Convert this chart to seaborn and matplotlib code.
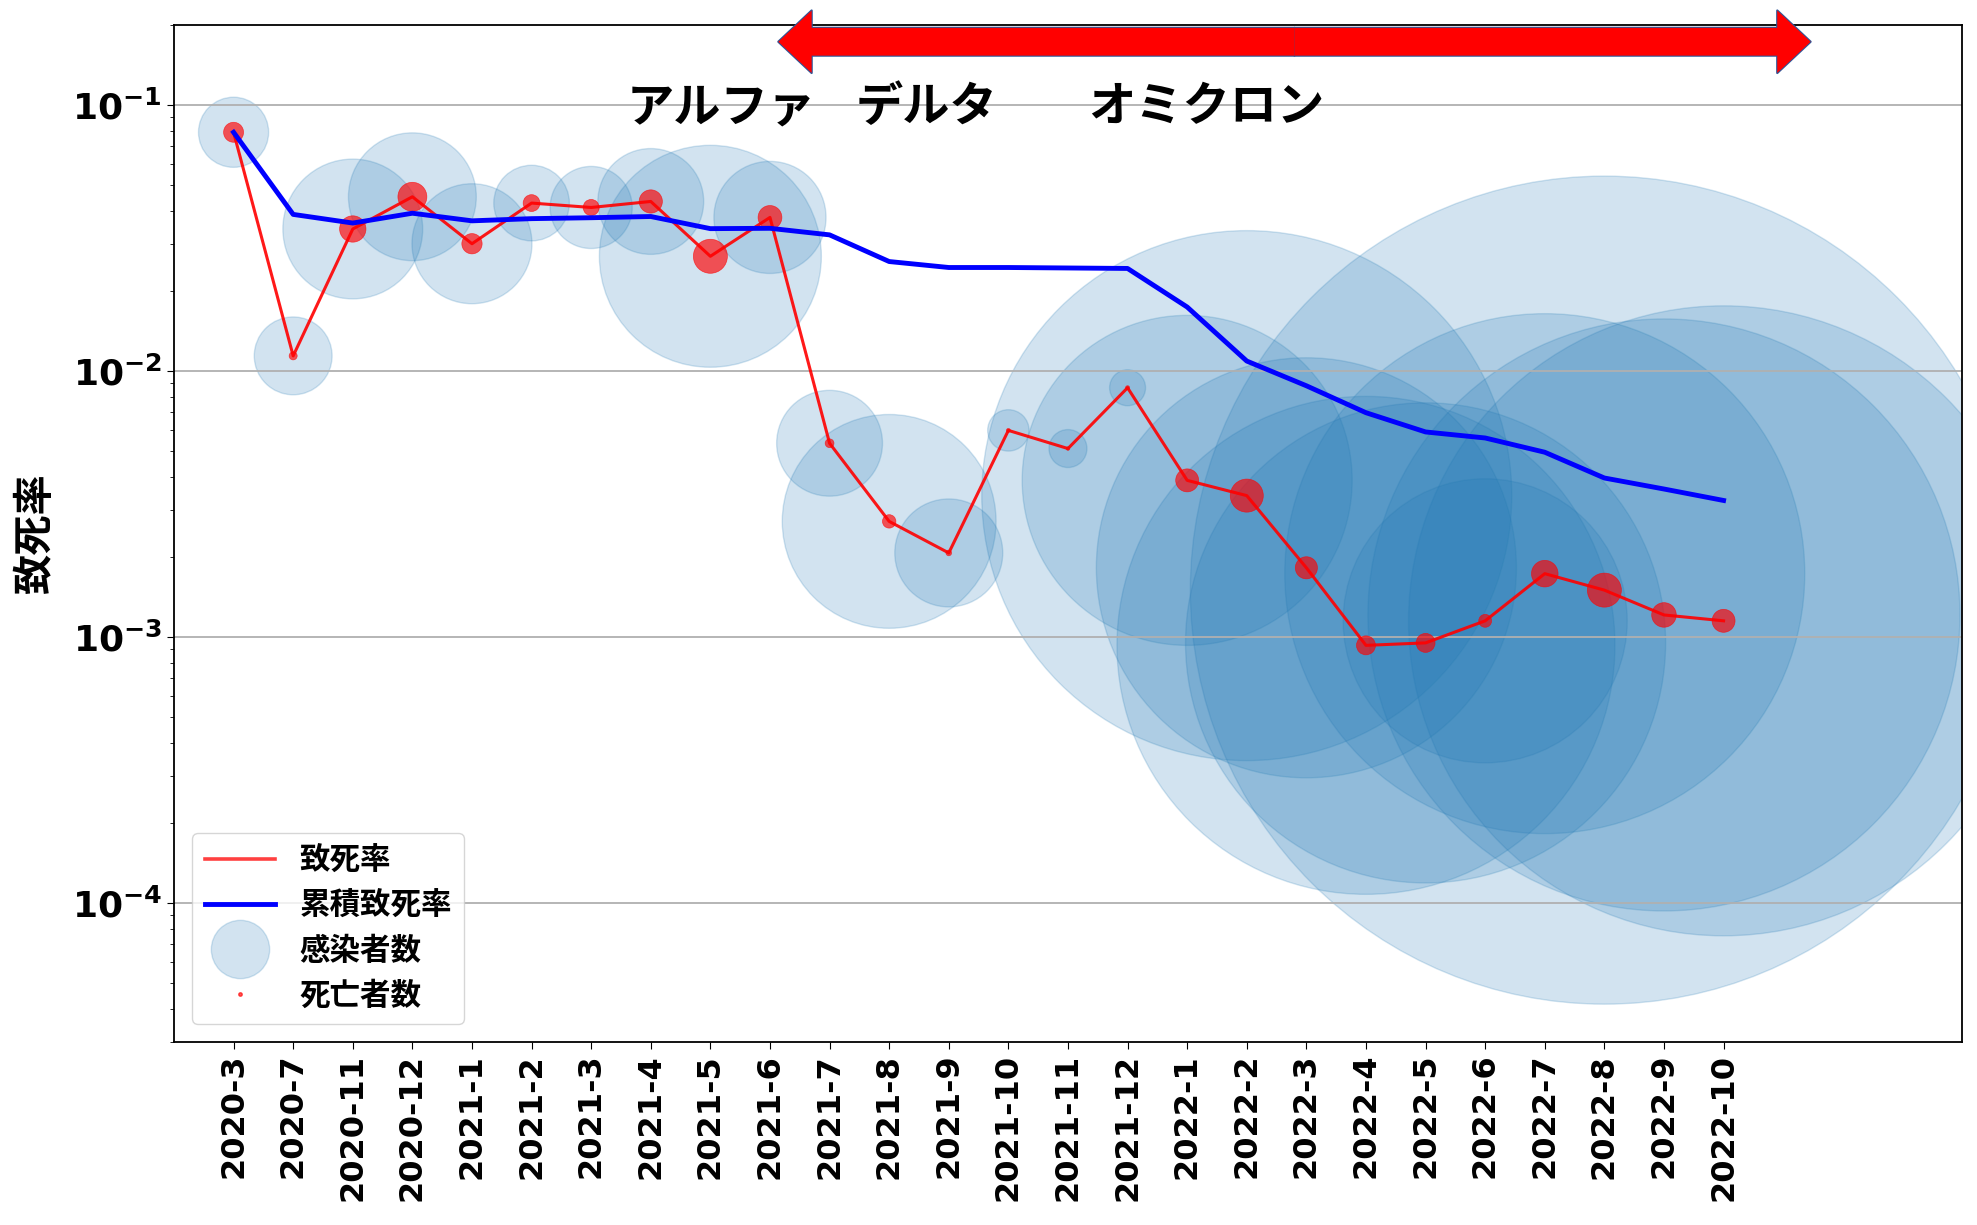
import numpy as np
import pandas as pd
import matplotlib
matplotlib.use("Agg")
import matplotlib.pyplot as plt
import seaborn as sns
from matplotlib.ticker import FuncFormatter
from matplotlib.lines import Line2D

# ---------------- data ----------------
months = ["2020-3", "2020-7", "2020-11", "2020-12", "2021-1", "2021-2", "2021-3",
          "2021-4", "2021-5", "2021-6", "2021-7", "2021-8", "2021-9", "2021-10",
          "2021-11", "2021-12", "2022-1", "2022-2", "2022-3", "2022-4", "2022-5",
          "2022-6", "2022-7", "2022-8", "2022-9", "2022-10"]
fatality_rate = [0.079, 0.0114, 0.0342, 0.0452, 0.0301, 0.0428, 0.0412, 0.0434,
                 0.0270, 0.0378, 0.00535, 0.00272, 0.00207, 0.00598, 0.00511,
                 0.00865, 0.00388, 0.00340, 0.00182, 0.00093, 0.00095, 0.00115,
                 0.00173, 0.00150, 0.00121, 0.00115]
cumulative_rate = [0.079, 0.0388, 0.0360, 0.0392, 0.0367, 0.0374, 0.0377, 0.0381,
                   0.0343, 0.0344, 0.0325, 0.0258, 0.0245, 0.0245, 0.0244, 0.0243,
                   0.0174, 0.0109, 0.00880, 0.00697, 0.00590, 0.00560, 0.00495,
                   0.00396, 0.00360, 0.00326]
infections = [43000, 53000, 171000, 143000, 126000, 50000, 59000, 98000, 431000,
              110000, 98000, 400000, 102000, 15000, 12600, 11300, 953000, 2458000,
              1544000, 2170000, 2017000, 706000, 2366000, 6000000, 3067000, 3473000]
deaths = [3100, 500, 5400, 6500, 3200, 2200, 2000, 4200, 10000, 4400, 600, 1400,
          250, 120, 100, 130, 4100, 8500, 3800, 2800, 2800, 1300, 5500, 9000,
          4700, 4100]
legend_labels = ["致死率", "累積致死率", "感染者数", "死亡者数"]
variant_names = ["アルファ", "デルタ", "オミクロン"]
variant_x = [6.6, 10.44, 14.33]
y_label = "致死率"

# ---------------- style ----------------
plt.rcParams["font.family"] = ["DejaVu Sans", "Noto Sans CJK JP"]
plt.rcParams["mathtext.fontset"] = "dejavusans"
plt.rcParams["axes.unicode_minus"] = True

df = pd.DataFrame({
    "pos": np.arange(len(months)),
    "month": months,
    "rate": fatality_rate,
    "cum": cumulative_rate,
    "cases": infections,
    "deaths": deaths,
})

C0 = "#1f77b4"
fig = plt.figure(figsize=(19.77, 12.25), dpi=100)
ax = fig.add_axes([0.088, 0.1494, 0.9044, 0.8302])
ax.set_yscale("log")

# bubbles: infections
sns.scatterplot(data=df, x="pos", y="rate", size="cases",
                sizes=(0, 355450), size_norm=(0, max(infections)),
                color=C0, alpha=0.2, edgecolor=C0, linewidth=1.0,
                legend=False, zorder=1, ax=ax)
# red dots: deaths
sns.scatterplot(data=df, x="pos", y="rate", size="deaths",
                sizes=(0, 600), size_norm=(0, 9000),
                color="red", alpha=0.65, edgecolor="red", linewidth=0.5,
                legend=False, zorder=3, ax=ax)
# lines
sns.lineplot(data=df, x="pos", y="rate", color="red", lw=2.2, alpha=0.9,
             zorder=4, ax=ax, legend=False)
sns.lineplot(data=df, x="pos", y="cum", color="blue", lw=3.5,
             zorder=5, ax=ax, legend=False)

ax.set_xlim(-1, 29)
ax.set_ylim(3.0e-5, 0.2)
ax.set_xticks(df["pos"], months, rotation=90, fontsize=23, fontweight="bold")
ax.yaxis.set_major_formatter(
    FuncFormatter(lambda v, p: r"$\mathbf{10^{%d}}$" % round(np.log10(v))))
ax.tick_params(axis="y", which="major", labelsize=26, length=5)
ax.tick_params(axis="y", which="minor", length=3)
ax.tick_params(axis="x", length=5)
ax.grid(axis="y", which="major", color="#b0b0b0", lw=1.3)
ax.set_xlabel("")
ax.set_ylabel(y_label, fontsize=29, fontweight="bold", family="Noto Sans CJK JP")
ax.yaxis.set_label_coords(-0.066, 0.5)
for sp in ax.spines.values():
    sp.set_linewidth(1.3)

# variant names
for name, xv in zip(variant_names, variant_x):
    ax.text(xv, 0.0983, name, fontsize=34, fontweight="bold",
            family="Noto Sans CJK JP", va="center", ha="left", zorder=12)

# red double arrow
ya = 0.173
x_left, x_right = 9.14, 26.46
mid = (x_left + x_right) / 2
style = "simple,head_length=24,head_width=45,tail_width=20"
for fc, ec, z in (("none", "#2f5597", 10), ("red", "none", 11)):
    for end in (x_left, x_right):
        ax.annotate("", xy=(end, ya), xytext=(mid, ya), xycoords="data",
                    arrowprops=dict(arrowstyle=style, mutation_scale=1,
                                    fc=fc, ec=ec, lw=1.6,
                                    shrinkA=0, shrinkB=0),
                    annotation_clip=False, zorder=z)

# legend
handles = [
    Line2D([], [], color="red", lw=2.6, alpha=0.75),
    Line2D([], [], color="blue", lw=3.5),
    Line2D([], [], ls="none", marker="o", markersize=42, mfc=C0, mec=C0, alpha=0.2),
    Line2D([], [], ls="none", marker="o", markersize=2.5, color="red", alpha=0.65),
]
ax.legend(handles, legend_labels, loc="lower left",
          prop=dict(family="Noto Sans CJK JP", weight="bold", size=22),
          handlelength=2.3, labelspacing=0.42, borderaxespad=0.6)

fig.savefig("out.png", dpi=100)
